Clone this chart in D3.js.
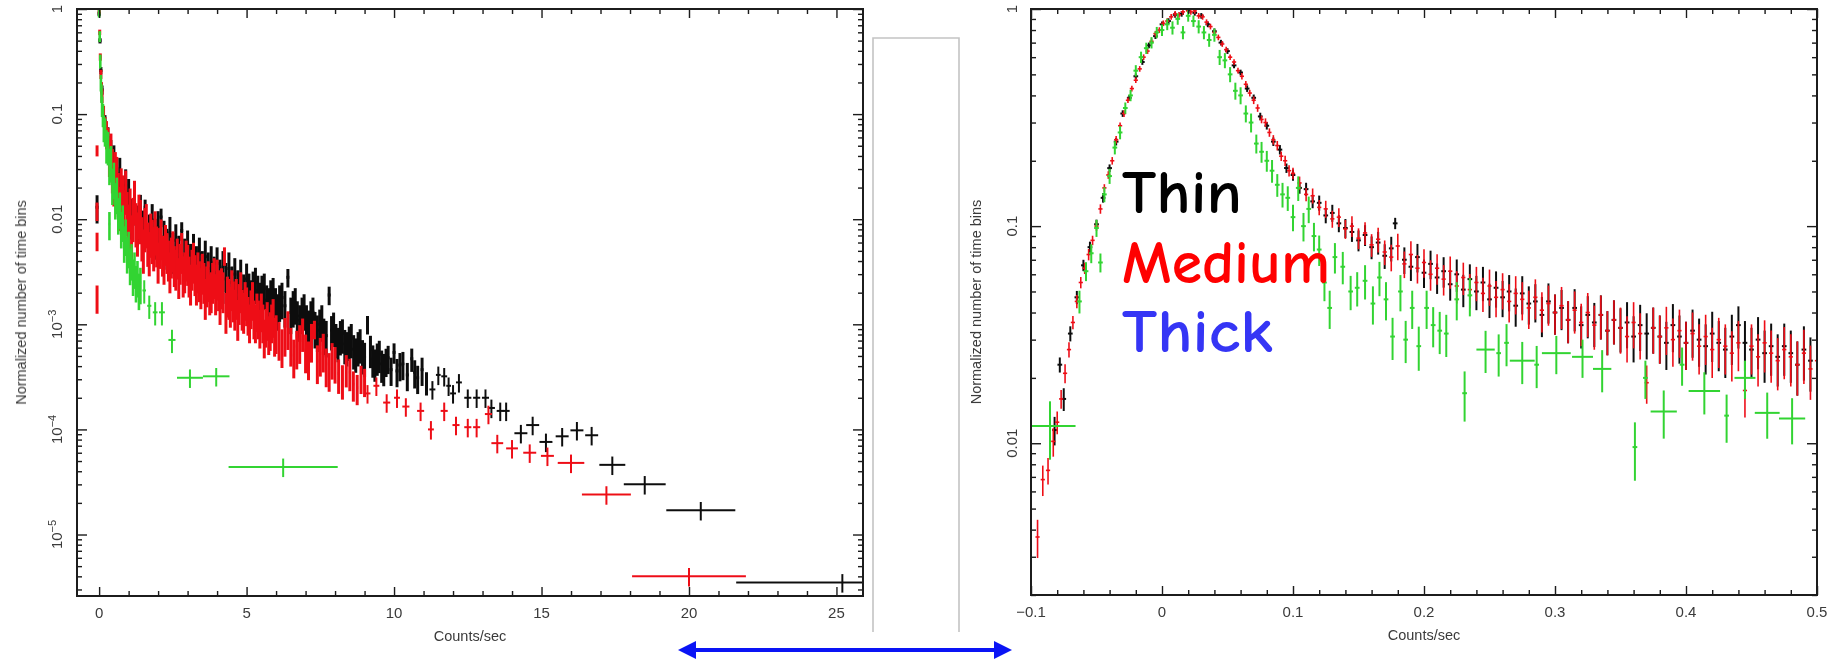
<!DOCTYPE html>
<html>
<head>
<meta charset="utf-8">
<script src="https://cdn.jsdelivr.net/npm/d3@7"></script>
<style>
  body { margin: 0; background: #fff; }
  svg { display: block; }
</style>
</head>
<body>
<svg id="fig" width="1845" height="664"></svg>
<script>
// ---- Count-rate distributions: rows are [rate, fraction, relative error, half bin width] ----
// Left panel: full count-rate range (cts/s)
const thinCounts = [
  [-0.07,0.013,0.3],
  [0.0,0.9,0.05],[0.03,0.5,0.06],[0.06,0.26,0.08],[0.1,0.17,0.1],[0.2,0.085,0.15],[0.3,0.06,0.25],
  [0.4,0.042,0.35],[0.5,0.036,0.4],[0.6,0.022,0.42],[0.7,0.027,0.42],[0.8,0.016,0.42],[0.9,0.021,0.42],
  [1.0,0.017,0.42],[1.1,0.011,0.42],[1.2,0.015,0.42],[1.3,0.0095,0.42],[1.4,0.012,0.42],[1.5,0.0085,0.42],
  [1.56,0.013,0.18],[1.7,0.0078,0.42],[1.8,0.0098,0.42],[1.9,0.0071,0.42],[2.0,0.0084,0.42],[2.1,0.0105,0.2],
  [2.2,0.0068,0.42],[2.3,0.0057,0.42],[2.4,0.0074,0.42],[2.5,0.0052,0.42],[2.6,0.0063,0.42],[2.7,0.0049,0.42],
  [2.8,0.0078,0.2],[2.9,0.0046,0.42],[3.0,0.0055,0.42],[3.1,0.0041,0.42],[3.2,0.0051,0.42],[3.3,0.0039,0.42],
  [3.4,0.0047,0.42],[3.5,0.0035,0.42],[3.6,0.0044,0.42],[3.7,0.0034,0.42],[3.8,0.0039,0.42],[3.9,0.0031,0.42],
  [4.0,0.0038,0.42],[4.1,0.0029,0.42],[4.2,0.0035,0.42],[4.3,0.0027,0.42],[4.4,0.0034,0.42],[4.5,0.0025,0.42],
  [4.6,0.003,0.42],[4.7,0.0023,0.42],[4.8,0.0029,0.42],[4.9,0.0021,0.42],[5.0,0.0027,0.4],[5.08,0.0022,0.38],[5.15,0.0019,0.38],
  [5.22,0.0023,0.38],[5.3,0.0025,0.38],[5.38,0.0021,0.38],[5.45,0.0018,0.38],[5.52,0.0021,0.38],[5.6,0.0022,0.38],[5.68,0.0017,0.38],[5.75,0.0016,0.38],
  [5.82,0.0019,0.38],[5.9,0.002,0.38],[5.98,0.0016,0.38],[6.05,0.0014,0.38],[6.12,0.0017,0.38],
  [6.2,0.0018,0.38],[6.3,0.0015,0.38],[6.4,0.0028,0.2],[6.5,0.0013,0.38],[6.58,0.0015,0.38],[6.65,0.0016,0.38],[6.72,0.0012,0.38],[6.8,0.0011,0.38],[6.88,0.0013,0.38],[6.95,0.0014,0.38],
  [7.03,0.0011,0.38],[7.1,0.00098,0.38],[7.18,0.0012,0.38],[7.25,0.0013,0.38],[7.32,0.00095,0.38],[7.4,0.00088,0.38],[7.48,0.001,0.38],[7.55,0.0011,0.38],[7.62,0.00082,0.38],[7.7,0.00078,0.38],[7.8,0.0019,0.2],
  [7.88,0.00088,0.36],[7.95,0.00095,0.36],[8.03,0.00074,0.36],[8.1,0.00068,0.36],[8.18,0.00079,0.36],[8.25,0.00082,0.36],[8.33,0.00065,0.36],[8.4,0.00062,0.36],[8.48,0.0007,0.36],[8.55,0.00074,0.36],[8.63,0.00058,0.36],[8.7,0.00054,0.36],
  [8.78,0.00062,0.36],[8.85,0.00066,0.36],[8.93,0.00052,0.36],[9.0,0.00049,0.36],[9.1,0.001,0.2],[9.2,0.00058,0.34],[9.28,0.00047,0.34],[9.35,0.00043,0.34],[9.43,0.00049,0.34],[9.5,0.00052,0.34],
  [9.58,0.00042,0.34],[9.65,0.00039,0.34],[9.73,0.00045,0.3],[9.8,0.00048,0.3],[9.9,0.00037,0.3],[10.0,0.00054,0.22],[10.1,0.00036,0.3],[10.2,0.00041,0.3],[10.3,0.00042,0.3],[10.45,0.00033,0.3],
  [10.6,0.00047,0.25],[10.7,0.00035,0.3],[10.8,0.00031,0.3],[10.95,0.00037,0.3],[11.1,0.00028,0.25],
  [11.3,0.00024,0.2,0.1],[11.5,0.00033,0.2,0.08],[11.7,0.00032,0.2,0.1],[11.85,0.00026,0.2,0.08],[12.0,0.00022,0.2,0.1],
  [12.2,0.00028,0.2,0.1],[12.5,0.0002,0.2,0.12],[12.8,0.0002,0.2,0.12],[13.1,0.0002,0.2,0.12],[13.3,0.00016,0.2,0.12],
  [13.6,0.00015,0.2,0.12],[13.8,0.00015,0.2,0.12],[14.3,0.000092,0.2,0.22],[14.7,0.00011,0.2,0.22],[15.15,0.000076,0.2,0.22],
  [15.7,0.000086,0.2,0.22],[16.2,0.000098,0.2,0.22],[16.7,0.000088,0.2,0.22],[17.4,0.000046,0.2,0.44],
  [18.5,0.00003,0.2,0.71],[20.4,0.000017,0.2,1.17],[25.2,0.0000035,0.2,3.6]
];
const mediumCounts = [
  [-0.07,0.045,0.12],[-0.07,0.012,0.2],[-0.07,0.0062,0.2],[-0.07,0.0018,0.3],
  [0.0,0.95,0.05],[0.02,0.6,0.06],[0.04,0.35,0.08],[0.06,0.24,0.1],[0.08,0.18,0.12],[0.1,0.15,0.15],[0.15,0.1,0.2],[0.2,0.075,0.25],
  [0.25,0.066,0.3],[0.3,0.055,0.35],[0.35,0.042,0.4],[0.4,0.045,0.45],[0.45,0.032,0.45],[0.5,0.024,0.45],[0.55,0.03,0.45],[0.6,0.027,0.45],[0.65,0.019,0.45],[0.7,0.014,0.45],[0.75,0.021,0.45],[0.8,0.018,0.45],[0.85,0.013,0.45],[0.9,0.02,0.45],
  [0.95,0.0125,0.45],[1.0,0.0095,0.45],[1.05,0.0135,0.45],[1.1,0.0075,0.45],[1.15,0.011,0.45],[1.2,0.016,0.45],[1.25,0.0098,0.45],[1.3,0.008,0.45],[1.35,0.0118,0.45],[1.4,0.0105,0.45],[1.45,0.0072,0.45],[1.5,0.0055,0.45],
  [1.55,0.0088,0.45],[1.6,0.0096,0.45],[1.65,0.0064,0.45],[1.7,0.0052,0.45],[1.75,0.0078,0.45],[1.8,0.0068,0.45],[1.85,0.0058,0.45],[1.9,0.0082,0.45],[1.95,0.006,0.42],[2.0,0.0042,0.42],[2.05,0.0058,0.42],[2.1,0.007,0.42],
  [2.15,0.0049,0.42],[2.2,0.0041,0.42],[2.25,0.0062,0.42],[2.3,0.0052,0.42],[2.35,0.0044,0.42],[2.4,0.0034,0.42],[2.45,0.0047,0.42],[2.5,0.0054,0.42],[2.55,0.0039,0.42],[2.6,0.0036,0.42],[2.65,0.0046,0.42],[2.7,0.003,0.42],
  [2.75,0.0041,0.42],[2.8,0.0052,0.42],[2.85,0.0031,0.42],[2.9,0.0034,0.42],[2.95,0.0044,0.42],[3.0,0.004,0.42],[3.05,0.0031,0.42],[3.1,0.0026,0.42],[3.15,0.0036,0.42],[3.2,0.0042,0.42],[3.25,0.0032,0.42],[3.3,0.0026,0.42],
  [3.35,0.0034,0.42],[3.4,0.0028,0.42],[3.45,0.0024,0.42],[3.5,0.0033,0.42],[3.55,0.0027,0.42],[3.6,0.0019,0.42],[3.65,0.0025,0.42],[3.7,0.0028,0.42],[3.75,0.0021,0.42],[3.8,0.0022,0.42],[3.85,0.0027,0.42],[3.9,0.003,0.42],
  [3.95,0.0021,0.42],[4.0,0.0029,0.42],[4.05,0.0023,0.42],[4.1,0.0017,0.42],[4.15,0.0024,0.42],[4.2,0.0022,0.42],[4.25,0.0045,0.2],[4.3,0.0014,0.42],[4.35,0.002,0.42],[4.4,0.0019,0.42],[4.45,0.0016,0.42],
  [4.5,0.0023,0.42],[4.55,0.0018,0.42],[4.6,0.0015,0.42],[4.65,0.0019,0.42],[4.7,0.0012,0.42],[4.75,0.0017,0.42],[4.8,0.0022,0.42],[4.85,0.0015,0.42],[4.9,0.0014,0.42],[4.95,0.0018,0.4],[5.0,0.0016,0.4],
  [5.05,0.0013,0.4],[5.1,0.0011,0.4],[5.15,0.0015,0.4],[5.2,0.0018,0.4],[5.25,0.0012,0.4],[5.3,0.0011,0.4],[5.35,0.0014,0.4],[5.4,0.0012,0.4],[5.45,0.00098,0.4],[5.5,0.0014,0.4],[5.55,0.0011,0.4],[5.6,0.00079,0.4],
  [5.65,0.001,0.4],[5.7,0.00116,0.4],[5.75,0.00085,0.4],[5.8,0.00093,0.4],[5.85,0.0011,0.4],[5.9,0.00124,0.4],[5.95,0.00082,0.4],[6.0,0.00087,0.4],[6.1,0.00075,0.4],[6.2,0.00064,0.4],[6.3,0.00082,0.4],[6.4,0.00095,0.4],
  [6.5,0.00066,0.4],[6.6,0.00051,0.4],[6.7,0.00062,0.4],[6.8,0.0007,0.4],[6.9,0.00084,0.35],[7.0,0.00057,0.4],[7.1,0.00049,0.4],[7.2,0.00072,0.4],[7.3,0.0009,0.2],
  [7.4,0.00045,0.4],[7.5,0.00053,0.4],[7.6,0.00058,0.4],[7.7,0.00042,0.4],[7.8,0.00038,0.4],[7.9,0.00048,0.38],[8.0,0.00044,0.38],[8.12,0.00034,0.36],[8.25,0.0003,0.36],[8.38,0.00038,0.34],[8.5,0.00035,0.34],
  [8.62,0.00027,0.32],[8.75,0.00025,0.32],[8.88,0.00031,0.3],[9.0,0.00029,0.3],
  [9.1,0.00022,0.2,0.1],[9.4,0.00026,0.2,0.1],[9.75,0.00018,0.2,0.12],[10.1,0.0002,0.2,0.1],[10.4,0.000165,0.2,0.12],
  [10.9,0.00015,0.2,0.12],[11.25,0.0001,0.2,0.1],[11.7,0.00015,0.2,0.12],[12.1,0.00011,0.2,0.12],[12.5,0.000105,0.2,0.12],
  [12.8,0.000105,0.2,0.12],[13.2,0.00014,0.2,0.12],[13.5,0.000074,0.2,0.2],[14.0,0.000066,0.2,0.2],[14.6,0.00006,0.2,0.22],
  [15.2,0.000056,0.2,0.22],[16.0,0.000048,0.2,0.45],[17.2,0.000024,0.2,0.83],[20.0,0.000004,0.2,1.93]
];
const thickCounts = [
  [0.0,0.92,0.1],[0.02,0.55,0.12],[0.04,0.32,0.15],[0.06,0.2,0.18],[0.08,0.16,0.2],[0.1,0.12,0.22],[0.13,0.1,0.25],
  [0.16,0.075,0.28],[0.2,0.07,0.3],[0.25,0.052,0.35],[0.3,0.05,0.35],[0.35,0.034,0.38],[0.35,0.009,0.3],[0.4,0.036,0.38],
  [0.45,0.022,0.38],[0.5,0.025,0.38],[0.55,0.016,0.38],[0.6,0.018,0.38],[0.65,0.0115,0.38],[0.7,0.013,0.38],
  [0.75,0.0085,0.38],[0.8,0.0098,0.38],[0.85,0.0062,0.38],[0.9,0.0072,0.38],[0.95,0.0049,0.38],[1.0,0.0055,0.38],
  [1.05,0.0038,0.38],[1.1,0.0042,0.38],[1.15,0.003,0.38],[1.2,0.0035,0.38],[1.25,0.0026,0.38],[1.3,0.0029,0.38],
  [1.35,0.0022,0.38],[1.4,0.0025,0.38],
  [1.53,0.0021,0.25,0.06],[1.7,0.0015,0.25,0.07],[1.9,0.0013,0.25,0.08],[2.13,0.0013,0.25,0.1],[2.47,0.00071,0.25,0.12],
  [3.08,0.00031,0.2,0.44],[3.97,0.00032,0.2,0.45],[6.24,0.000044,0.2,1.85]
];

// Right panel: low count-rate range (cts/s)
const thinPeak = [
  [-0.082,0.0115,0.15],[-0.078,0.023,0.08],[-0.075,0.016,0.12],[-0.07,0.032,0.08],[-0.065,0.047,0.07],
  [-0.06,0.066,0.06],[-0.055,0.08,0.06],[-0.05,0.102,0.05],[-0.045,0.135,0.05],[-0.04,0.185,0.04],
  [-0.035,0.245,0.04],[-0.03,0.33,0.035],[-0.025,0.39,0.03],[-0.02,0.49,0.03],[-0.015,0.57,0.03],
  [-0.01,0.68,0.03],[-0.005,0.75,0.03],[0.0,0.85,0.03],[0.005,0.88,0.03],[0.01,0.94,0.03],[0.015,0.95,0.03],
  [0.02,0.99,0.03],[0.025,0.96,0.03],[0.03,0.93,0.03],[0.035,0.85,0.03],[0.04,0.79,0.03],[0.045,0.7,0.03],
  [0.05,0.64,0.03],[0.055,0.55,0.03],[0.06,0.51,0.03],[0.065,0.43,0.035],[0.07,0.39,0.035],[0.075,0.32,0.04],
  [0.08,0.29,0.04],[0.085,0.245,0.045],[0.09,0.225,0.05],[0.095,0.185,0.05],[0.1,0.172,0.06],[0.105,0.15,0.06],
  [0.11,0.148,0.07],[0.115,0.13,0.07],[0.12,0.128,0.08],[0.125,0.112,0.08],[0.13,0.115,0.09],[0.135,0.103,0.09],
  [0.14,0.098,0.1],[0.145,0.094,0.1],[0.15,0.086,0.11],[0.155,0.091,0.11],[0.16,0.08,0.12],[0.165,0.084,0.12],
  [0.17,0.073,0.13],[0.175,0.079,0.13],[0.178,0.103,0.06],[0.185,0.07,0.14],[0.19,0.065,0.14],[0.195,0.072,0.15],
  [0.2,0.061,0.15],[0.205,0.067,0.15],[0.21,0.058,0.16],[0.215,0.062,0.16],[0.22,0.054,0.16],[0.225,0.06,0.17],
  [0.23,0.051,0.17],[0.235,0.057,0.17],[0.24,0.05,0.18],[0.245,0.055,0.18],[0.25,0.046,0.18],[0.255,0.052,0.19],
  [0.26,0.047,0.19],[0.265,0.05,0.19],[0.27,0.043,0.2],[0.275,0.049,0.2],[0.28,0.044,0.2],[0.285,0.045,0.2],
  [0.29,0.039,0.21],[0.295,0.045,0.21],[0.3,0.04,0.21],[0.305,0.042,0.21],[0.31,0.037,0.22],[0.315,0.042,0.22],
  [0.32,0.035,0.22],[0.325,0.039,0.22],[0.33,0.036,0.23],[0.335,0.039,0.23],[0.34,0.033,0.23],[0.345,0.037,0.23],
  [0.35,0.034,0.23],[0.355,0.036,0.24],[0.36,0.031,0.24],[0.365,0.035,0.24],[0.37,0.032,0.24],[0.375,0.034,0.24],
  [0.38,0.031,0.25],[0.385,0.029,0.25],[0.39,0.035,0.25],[0.395,0.031,0.25],[0.4,0.029,0.25],[0.405,0.033,0.25],
  [0.41,0.03,0.25],[0.415,0.028,0.26],[0.42,0.032,0.26],[0.425,0.029,0.26],[0.43,0.027,0.26],[0.435,0.031,0.26],
  [0.44,0.035,0.22],[0.445,0.029,0.26],[0.45,0.027,0.26],[0.455,0.03,0.27],[0.46,0.026,0.27],[0.465,0.028,0.27],
  [0.47,0.025,0.27],[0.475,0.028,0.27],[0.48,0.026,0.27],[0.485,0.023,0.28],[0.49,0.027,0.28],[0.495,0.024,0.28]
];
const mediumPeak = [
  [-0.095,0.0037,0.2],[-0.091,0.0068,0.16],[-0.087,0.0075,0.14],[-0.083,0.0102,0.15],[-0.08,0.0125,0.12],
  [-0.077,0.016,0.1],[-0.074,0.021,0.1],[-0.071,0.027,0.08],[-0.068,0.036,0.07],[-0.065,0.045,0.07],
  [-0.062,0.055,0.06],[-0.059,0.064,0.06],[-0.056,0.074,0.06],[-0.053,0.086,0.05],[-0.05,0.1,0.05],
  [-0.047,0.12,0.05],[-0.044,0.15,0.04],[-0.041,0.172,0.04],[-0.038,0.2,0.04],[-0.035,0.25,0.04],
  [-0.032,0.29,0.035],[-0.029,0.33,0.035],[-0.026,0.38,0.03],[-0.023,0.43,0.03],[-0.02,0.47,0.03],
  [-0.017,0.53,0.03],[-0.014,0.6,0.03],[-0.011,0.64,0.03],[-0.008,0.71,0.03],[-0.005,0.77,0.03],
  [-0.002,0.8,0.03],[0.001,0.86,0.03],[0.004,0.88,0.03],[0.007,0.92,0.03],[0.01,0.95,0.03],[0.013,0.94,0.03],
  [0.016,0.97,0.03],[0.019,1.0,0.03],[0.022,0.97,0.03],[0.025,0.98,0.03],[0.028,0.93,0.03],[0.031,0.92,0.03],
  [0.034,0.87,0.03],[0.037,0.83,0.03],[0.04,0.78,0.03],[0.043,0.74,0.03],[0.046,0.69,0.03],[0.049,0.65,0.03],
  [0.052,0.6,0.03],[0.055,0.57,0.03],[0.058,0.52,0.03],[0.061,0.49,0.035],[0.064,0.45,0.035],[0.067,0.41,0.035],
  [0.07,0.38,0.04],[0.073,0.35,0.04],[0.076,0.31,0.04],[0.079,0.3,0.045],[0.082,0.27,0.045],[0.085,0.25,0.05],
  [0.088,0.235,0.05],[0.091,0.21,0.05],[0.094,0.2,0.055],[0.097,0.18,0.06],[0.1,0.175,0.06],
  [0.105,0.158,0.07],[0.11,0.14,0.07],[0.115,0.138,0.08],[0.12,0.122,0.08],[0.125,0.12,0.09],[0.13,0.108,0.09],
  [0.135,0.11,0.1],[0.14,0.097,0.1],[0.145,0.1,0.11],[0.15,0.088,0.11],[0.155,0.093,0.12],[0.16,0.082,0.12],
  [0.165,0.087,0.13],[0.17,0.076,0.13],[0.175,0.072,0.14],[0.18,0.081,0.14],[0.185,0.067,0.14],[0.19,0.074,0.15],
  [0.195,0.064,0.15],[0.2,0.068,0.15],[0.205,0.06,0.16],[0.21,0.064,0.16],[0.215,0.057,0.16],[0.22,0.062,0.17],
  [0.225,0.053,0.17],[0.23,0.058,0.17],[0.235,0.051,0.18],[0.24,0.055,0.18],[0.245,0.049,0.18],[0.25,0.053,0.19],
  [0.255,0.047,0.19],[0.26,0.051,0.19],[0.265,0.045,0.2],[0.27,0.049,0.2],[0.275,0.046,0.2],[0.28,0.042,0.2],
  [0.285,0.047,0.21],[0.29,0.041,0.21],[0.295,0.044,0.21],[0.3,0.04,0.21],[0.305,0.043,0.22],[0.31,0.037,0.22],
  [0.315,0.041,0.22],[0.32,0.036,0.22],[0.325,0.04,0.23],[0.33,0.035,0.23],[0.335,0.039,0.23],[0.34,0.033,0.23],
  [0.345,0.037,0.23],[0.35,0.034,0.24],[0.355,0.031,0.24],[0.36,0.036,0.24],[0.365,0.032,0.24],[0.37,0.019,0.2],
  [0.375,0.034,0.24],[0.38,0.031,0.25],[0.385,0.034,0.25],[0.39,0.03,0.25],[0.395,0.033,0.25],[0.4,0.029,0.25],
  [0.405,0.032,0.25],[0.41,0.028,0.26],[0.415,0.031,0.26],[0.42,0.027,0.26],[0.425,0.03,0.26],[0.43,0.028,0.26],
  [0.435,0.026,0.26],[0.44,0.029,0.26],[0.445,0.0175,0.25],[0.45,0.028,0.26],[0.455,0.025,0.27],[0.46,0.029,0.27],
  [0.465,0.026,0.27],[0.47,0.024,0.27],[0.475,0.027,0.27],[0.48,0.025,0.27],[0.485,0.023,0.28],[0.49,0.026,0.28],
  [0.495,0.022,0.28],[0.5,0.024,0.28]
];
const thickPeak = [
  [-0.0855,0.012,0.3,0.0195],
  [-0.063,0.045,0.12],[-0.058,0.062,0.1],[-0.054,0.075,0.1],[-0.05,0.098,0.09],[-0.047,0.068,0.1],
  [-0.044,0.14,0.08],[-0.04,0.17,0.08],[-0.036,0.23,0.07],[-0.032,0.27,0.07],[-0.028,0.35,0.06],
  [-0.024,0.4,0.06],[-0.02,0.52,0.06],[-0.016,0.6,0.06],[-0.012,0.66,0.06],[-0.008,0.7,0.06],
  [-0.004,0.78,0.06],[0.0,0.8,0.06],[0.004,0.85,0.06],[0.008,0.82,0.07],[0.012,0.9,0.06],[0.016,0.78,0.07],
  [0.02,0.93,0.06],[0.024,0.88,0.06],[0.028,0.83,0.07],[0.032,0.78,0.07],[0.036,0.72,0.07],[0.04,0.76,0.07],
  [0.044,0.6,0.08],[0.048,0.58,0.08],[0.052,0.5,0.08],[0.056,0.42,0.09],[0.06,0.4,0.09],[0.064,0.33,0.09],
  [0.068,0.3,0.1],[0.072,0.24,0.1],[0.076,0.22,0.11],[0.08,0.2,0.11],[0.084,0.18,0.12],[0.088,0.155,0.12],
  [0.092,0.14,0.13],[0.096,0.135,0.13],[0.1,0.11,0.14],[0.104,0.15,0.13],[0.108,0.1,0.15],[0.112,0.12,0.14],
  [0.116,0.09,0.15],[0.12,0.078,0.16],[0.124,0.055,0.18],[0.128,0.042,0.2],[0.132,0.072,0.16],[0.138,0.065,0.17],
  [0.144,0.05,0.18],[0.149,0.052,0.18],[0.155,0.056,0.18],[0.161,0.044,0.2],[0.166,0.058,0.18],[0.171,0.046,0.2],
  [0.176,0.031,0.22],[0.182,0.05,0.19],[0.186,0.03,0.22],[0.191,0.042,0.2],[0.196,0.028,0.23],[0.202,0.042,0.2],
  [0.207,0.035,0.21],[0.212,0.033,0.22],[0.217,0.032,0.22],[0.225,0.046,0.2],[0.231,0.017,0.26],[0.235,0.048,0.2],
  [0.247,0.027,0.22,0.007],[0.257,0.026,0.22],[0.263,0.029,0.22],[0.275,0.024,0.22,0.0095],[0.286,0.023,0.22],
  [0.301,0.026,0.2,0.011],[0.321,0.025,0.2,0.008],[0.336,0.022,0.22,0.007],[0.361,0.0096,0.3],[0.369,0.02,0.2],
  [0.383,0.014,0.25,0.01],[0.397,0.023,0.2],[0.414,0.0174,0.22,0.012],[0.431,0.0134,0.25],[0.445,0.02,0.2,0.008],
  [0.462,0.0138,0.24,0.0095],[0.481,0.013,0.24,0.01]
];

// ---- Axis ticks and labels ----
const leftXTicks = [0, 5, 10, 15, 20, 25];
const leftYTicks = [1, 0.1, 0.01, 1e-3, 1e-4, 1e-5];
const leftYLabels = [["1"], ["0.1"], ["0.01"], ["10", "\u22123"], ["10", "\u22124"], ["10", "\u22125"]];
const rightXTicks = [-0.1, 0, 0.1, 0.2, 0.3, 0.4, 0.5];
const rightXLabels = ["\u22120.1", "0", "0.1", "0.2", "0.3", "0.4", "0.5"];
const rightYTicks = [1, 0.1, 0.01];
const rightYLabels = [["1"], ["0.1"], ["0.01"]];
const filterNames = ["Thin", "Medium", "Thick"];
const filterColors = ["#000000", "#ff0000", "#3535f5"];
const seriesColors = { thin: "#111111", medium: "#ee1018", thick: "#33d433" };

const svg = d3.select("#fig");
const AXIS_FONT = "'Liberation Sans', Arial, Helvetica, sans-serif";

// the plotted panels are slightly soft
svg.append("defs").append("filter").attr("id", "soft")
  .attr("x", "-2%").attr("y", "-2%").attr("width", "104%").attr("height", "104%")
  .append("feGaussianBlur").attr("stdDeviation", 0.55);

function drawPanel(cfg) {
  const { x, y, id } = cfg;
  const [x0, x1] = x.range();
  const [y0, y1] = y.range(); // y0 bottom, y1 top
  const g = svg.append("g").attr("class", "panel-" + id).attr("filter", "url(#soft)");

  g.append("clipPath").attr("id", "clip-" + id)
    .append("rect").attr("x", x0).attr("y", y1).attr("width", x1 - x0).attr("height", y0 - y1);

  const data = g.append("g").attr("clip-path", `url(#clip-${id})`);
  cfg.series.forEach(s => {
    const sg = data.append("g").attr("stroke", s.color).attr("stroke-width", s.width).attr("fill", "none");
    s.rows.forEach(r => {
      const [cx, cy, rel, halfW] = r;
      const wide = halfW !== undefined;
      const hw = wide ? halfW : s.halfWidth;
      sg.append("line")
        .attr("stroke-width", wide ? s.crossWidth : null)
        .attr("x1", x(cx)).attr("x2", x(cx))
        .attr("y1", y(cy * (1 - rel))).attr("y2", y(cy * (1 + rel)));
      sg.append("line")
        .attr("stroke-width", wide ? s.crossWidth : null)
        .attr("x1", x(cx - hw)).attr("x2", x(cx + hw))
        .attr("y1", y(cy)).attr("y2", y(cy));
    });
  });

  // ticks on all four sides, pointing inward
  const axes = g.append("g").attr("stroke-width", 1.4);
  const noDomain = sel => sel.select(".domain").remove();
  const minorX = cfg.minorX.filter(v => !cfg.xTicks.some(t => Math.abs(t - v) < 1e-9));
  const yAll = y.ticks().filter(v => v >= y.domain()[0] && v <= y.domain()[1]);
  const minorY = yAll.filter(v => !cfg.yTicks.some(t => Math.abs(Math.log10(t) - Math.log10(v)) < 1e-6));

  [[d3.axisBottom, y0], [d3.axisTop, y1]].forEach(([mk, pos]) => {
    axes.append("g").attr("transform", `translate(0,${pos})`)
      .call(mk(x).tickValues(cfg.xTicks).tickSize(-9).tickFormat("")).call(noDomain);
    axes.append("g").attr("transform", `translate(0,${pos})`)
      .call(mk(x).tickValues(minorX).tickSize(-5).tickFormat("")).call(noDomain);
  });
  [[d3.axisLeft, x0], [d3.axisRight, x1]].forEach(([mk, pos]) => {
    axes.append("g").attr("transform", `translate(${pos},0)`)
      .call(mk(y).tickValues(cfg.yTicks).tickSize(-10).tickFormat("")).call(noDomain);
    axes.append("g").attr("transform", `translate(${pos},0)`)
      .call(mk(y).tickValues(minorY).tickSize(-5).tickFormat("")).call(noDomain);
  });
  axes.selectAll(".tick line").attr("stroke", "#1a1a1a");

  g.append("rect").attr("x", x0).attr("y", y1).attr("width", x1 - x0).attr("height", y0 - y1)
    .attr("fill", "none").attr("stroke", "#1a1a1a").attr("stroke-width", 2);

  // tick labels
  const lab = g.append("g").attr("font-family", AXIS_FONT).attr("font-size", 15).attr("fill", "#3a3a3a");
  cfg.xTicks.forEach((t, i) => {
    lab.append("text").attr("x", x(t)).attr("y", y0 + 22).attr("text-anchor", "middle")
      .text(cfg.xLabels[i]);
  });
  cfg.yTicks.forEach((t, i) => {
    const parts = cfg.yLabels[i];
    const tx = lab.append("text")
      .attr("transform", `translate(${cfg.yLabelX},${y(t)}) rotate(-90)`)
      .attr("text-anchor", "middle").attr("dy", "0.36em");
    tx.append("tspan").text(parts[0]);
    if (parts[1]) tx.append("tspan").attr("font-size", 11).attr("dy", "-0.55em").text(parts[1]);
  });

  // axis titles
  lab.append("text").attr("x", (x0 + x1) / 2).attr("y", y0 + 45).attr("text-anchor", "middle")
    .attr("font-size", 14.5).text("Counts/sec");
  lab.append("text")
    .attr("transform", `translate(${cfg.titleX},${(y0 + y1) / 2}) rotate(-90)`)
    .attr("text-anchor", "middle").attr("dy", "0.35em").attr("font-size", 14.5)
    .text("Normalized number of time bins");
}

// left panel: full rate range
const leftX = d3.scaleLinear().domain([-0.75, 25.9]).range([77, 863]);
const leftY = d3.scaleLog().domain([2.6e-6, 1]).range([596, 9]);
drawPanel({
  id: "all", x: leftX, y: leftY,
  xTicks: leftXTicks, xLabels: leftXTicks.map(String), minorX: leftX.ticks(26),
  yTicks: leftYTicks, yLabels: leftYLabels, yLabelX: 57, titleX: 21,
  series: [
    { rows: thinCounts, color: seriesColors.thin, width: 3, crossWidth: 2, halfWidth: 0.05 },
    { rows: mediumCounts, color: seriesColors.medium, width: 3, crossWidth: 2, halfWidth: 0.03 },
    { rows: thickCounts, color: seriesColors.thick, width: 2.6, crossWidth: 2, halfWidth: 0.025 }
  ]
});

// right panel: zoom on the low-rate peak
const rightX = d3.scaleLinear().domain([-0.1, 0.5]).range([1031, 1817]);
const rightY = d3.scaleLog().domain([0.002, 1]).range([595, 9]);
drawPanel({
  id: "peak", x: rightX, y: rightY,
  xTicks: rightXTicks, xLabels: rightXLabels, minorX: rightX.ticks(30),
  yTicks: rightYTicks, yLabels: rightYLabels, yLabelX: 1012, titleX: 976,
  series: [
    { rows: thinPeak, color: seriesColors.thin, width: 2, crossWidth: 2, halfWidth: 0.0018 },
    { rows: mediumPeak, color: seriesColors.medium, width: 1.6, crossWidth: 2, halfWidth: 0.0016 },
    { rows: thickPeak, color: seriesColors.thick, width: 2, crossWidth: 2, halfWidth: 0.0018 }
  ]
});

// empty frame between the panels
svg.append("path")
  .attr("d", "M873,632 V38 H959 V632")
  .attr("fill", "none").attr("stroke", "#c4c4c4").attr("stroke-width", 1.6);

// double-headed arrow linking the panels
const arrow = svg.append("g").attr("fill", "#0a14f5").attr("stroke", "#0a14f5");
arrow.append("line").attr("x1", 690).attr("x2", 1000).attr("y1", 650).attr("y2", 650).attr("stroke-width", 4);
arrow.append("path").attr("stroke", "none").attr("d", "M678,650 L696,641 L696,659 Z");
arrow.append("path").attr("stroke", "none").attr("d", "M1012,650 L994,641 L994,659 Z");

// filter legend
const legendBase = [213, 283, 352];
const legendWidth = [120, 208, 151];
filterNames.forEach((name, i) => {
  svg.append("text")
    .attr("x", 1122).attr("y", legendBase[i])
    .attr("font-family", "'Comic Sans MS', 'Comic Neue', Lato, sans-serif")
    .attr("font-weight", "bold").attr("font-size", 60)
    .attr("textLength", legendWidth[i]).attr("lengthAdjust", "spacingAndGlyphs")
    .attr("fill", filterColors[i])
    .text(name);
});
</script>
</body>
</html>
